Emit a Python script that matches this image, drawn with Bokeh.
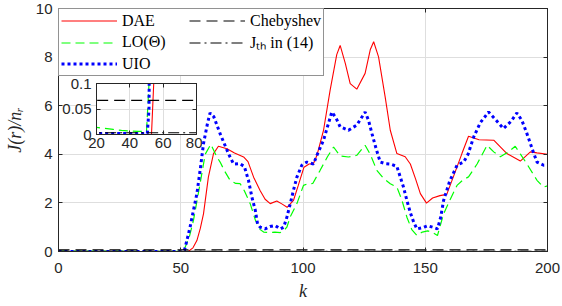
from bokeh.plotting import figure
from bokeh.models import (Legend, LegendItem, LinearAxis, FixedTicker,
                          CustomJSTickFormatter, Range1d)
from bokeh.embed import file_html
from bokeh.resources import INLINE

# ---------------- data ----------------
DAE_k = [0, 53, 55, 56.6, 58, 59.3, 61.3, 63.4, 65.4, 68.9, 72, 75.7, 77.5, 79.8, 82.5, 84.5,
         86.6, 89.3, 91.5, 93.5, 96.1, 98, 100.4, 102.5, 104.3, 105.7, 108.4, 111.1, 113.8,
         115.2, 117.3, 119.3, 122, 125.4, 127.5, 128.9, 130.9, 133.6, 135.7, 138.4, 141.8,
         143.9, 146, 148, 150.5, 153, 156, 158.8, 161.6, 165, 167.7, 172, 178, 183.4, 188.9,
         193, 195.7, 200]
DAE_J = [0, 0, 0.15, 0.45, 0.95, 1.55, 3.06, 4.03, 4.33, 4.23, 4.05, 3.89, 3.7, 3.06, 2.5, 2.15,
         1.97, 2.08, 1.95, 1.82, 2.1, 2.7, 3.47, 3.6, 3.62, 3.96, 4.99, 6.64, 8.1,
         8.48, 7.74, 6.91, 6.68, 7.33, 8.3, 8.63, 8.01, 6.36, 4.99, 4.03, 3.9,
         3.6, 3.0, 2.38, 1.99, 2.2, 2.3, 2.35, 3.1, 4.03, 4.74, 4.6, 4.58, 4.03, 3.72,
         4.1, 4.06, 4.0]

UIO_k = [0, 50.5, 51.5, 52.5, 53.8, 55.2, 56.6, 58, 59.3, 61,
         62, 63.5, 66.1, 69.5, 71.6, 74, 76, 77.7, 79.1, 80.5,
         81.4, 82.5, 84.5, 86.5, 88.6, 90.7, 92.1, 93.4, 94.8, 96.1,
         97.5, 99.5, 101.6, 104.3, 105.7, 108.4, 110.5, 111.8, 113.5, 115.2,
         118.6, 122, 125.4, 126.8, 128.2, 130, 131.6, 133.5, 135.7, 138.4,
         139.8, 141.1, 142.5, 143.9, 145.3, 146.6, 148.8, 151, 153, 155,
         156.3, 157.5, 160, 163, 165.7, 167.5, 169.8, 172.5, 175.9, 179,
         182, 185, 187.5, 189.5, 191.6, 194.3, 195.7, 198.4, 200]
UIO_J = [0.002, 0.002, 0.05, 0.45, 1.0, 1.7, 2.38, 3.4, 4.44, 5.3,
         5.7, 5.55, 4.85, 4.03, 3.6, 3.62, 3.5, 2.93, 2.24, 1.69,
         1.14, 1.0, 0.93, 1.03, 1.07, 0.93, 1.0, 1.41, 1.97, 2.52,
         3.06, 3.55, 3.68, 3.6, 3.96, 4.58, 5.3, 5.74, 5.5, 5.13,
         4.99, 5.2, 5.74, 5.4, 4.85, 4.2, 3.68, 3.62, 3.6, 3.5,
         3.06, 2.65, 2.1, 1.6, 1.2, 0.93, 0.98, 1.06, 1.0, 0.93,
         1.4, 2.1, 2.9, 3.55, 3.68, 4.0, 4.71, 5.3, 5.74, 5.4,
         5.06, 5.35, 5.7, 5.4, 4.85, 4.06, 3.68, 3.55, 3.55]

LO_k = [0, 10, 20, 30, 35, 40, 45, 50, 51.5, 53.5,
        55.2, 57.9, 60, 62.3, 64.8, 66.1, 68, 70.2, 72.5, 74.3,
        76, 78.4, 80.5, 82.5, 83.9, 86, 88.5, 90.7, 92, 93.4,
        94.8, 97.5, 100.2, 102, 104, 107, 110, 112.5, 115.2, 118.6,
        122, 125.4, 127.5, 130.2, 133, 135.7, 138.4, 140.5, 142.5, 144.5,
        146.6, 148.8, 151, 153, 155, 157.5, 160, 163, 165.5, 167.7,
        171.2, 175.3, 178, 180.7, 184, 186.8, 189, 191.6, 195.7, 198.4, 200]
LO_J = [0.02, 0.017, 0.014, 0.01, 0.008, 0.007, 0.006, 0.006, 0.1, 0.6,
        1.28, 2.79, 4.0, 4.41, 3.89, 3.68, 3.3, 2.93, 2.8, 2.79,
        2.5, 1.97, 1.3, 0.9, 0.8, 0.78, 0.8, 0.78, 0.85, 1.0,
        1.43, 1.97, 2.72, 2.79, 2.8, 3.34, 3.9, 4.3, 3.93, 3.89,
        3.96, 4.37, 4.0, 3.34, 3.0, 2.79, 2.65, 2.1, 1.41, 0.9,
        0.66, 0.8, 0.85, 0.78, 0.66, 1.55, 2.1, 2.72, 2.95, 3.07,
        3.6, 4.37, 4.1, 3.9, 4.1, 4.33, 4.0, 3.6, 2.93, 2.65, 2.7]

CHEB_k = [0, 200]
CHEB_J = [0.067, 0.067]
JTH_k = [0, 200]
JTH_J = [0.0033, 0.0033]

X_TICKS = [0, 50, 100, 150, 200]
Y_TICKS = [0, 2, 4, 6, 8, 10]
INSET_X_TICKS = [20, 40, 60, 80]
INSET_Y_TICKS = [0, 0.05, 0.1]
INSET_Y_LABELS = {0: "0", 0.05: "0.05", 0.1: "0.1"}

LABELS = ["DAE", "LO(\u0398)", "UIO", "Chebyshev", "J\u209c\u2095 in (14)"]

AX = "#262626"
GRID = "#dedede"
TICK_FONT = "Liberation Sans"


def style_axes(fig, xticks, yticks, font_size):
    bottom = fig.below[0]
    left = fig.left[0]
    for ax in (bottom, left):
        ax.major_tick_in = 4
        ax.major_tick_out = 0
        ax.minor_tick_line_color = None
        ax.axis_line_color = AX
        ax.major_tick_line_color = AX
        ax.major_label_text_color = AX
        ax.major_label_text_font = TICK_FONT
        ax.major_label_text_font_size = font_size
    bottom.ticker = FixedTicker(ticks=xticks)
    left.ticker = FixedTicker(ticks=yticks)
    fig.xgrid.ticker = FixedTicker(ticks=xticks)
    fig.ygrid.ticker = FixedTicker(ticks=yticks)
    fig.xgrid.grid_line_color = GRID
    fig.ygrid.grid_line_color = GRID
    fig.outline_line_color = AX
    fig.outline_line_alpha = 1
    blank = CustomJSTickFormatter(code="return ''")
    top = LinearAxis(ticker=FixedTicker(ticks=xticks), formatter=blank,
                     major_tick_in=4, major_tick_out=0, minor_tick_line_color=None,
                     major_label_standoff=0, major_label_text_font_size="1px",
                     axis_line_color=AX, major_tick_line_color=AX)
    right = LinearAxis(ticker=FixedTicker(ticks=yticks), formatter=blank,
                       major_tick_in=4, major_tick_out=0, minor_tick_line_color=None,
                       major_label_standoff=0, major_label_text_font_size="1px",
                       axis_line_color=AX, major_tick_line_color=AX)
    fig.add_layout(top, "above")
    fig.add_layout(right, "right")
    return bottom, left


def draw_series(fig):
    r1 = fig.line(DAE_k, DAE_J, line_color="#ff0000", line_width=1.1)
    r2 = fig.line(LO_k, LO_J, line_color="#00ff00", line_width=1.2, line_dash="9 5")
    r3 = fig.line(UIO_k, UIO_J, line_color="#0000ff", line_width=3, line_dash="3 3",
                  line_cap="butt")
    r4 = fig.line(CHEB_k, CHEB_J, line_color="#000000", line_width=1.1, line_dash="11 6")
    r5 = fig.line(JTH_k, JTH_J, line_color="#000000", line_width=1.1, line_dash="11 4 2 4")
    return [r1, r2, r3, r4, r5]


# ---------------- main figure (placed at the page origin) ----------------
p = figure(width=562, height=306, x_range=Range1d(0, 200), y_range=Range1d(0, 10),
           output_backend="svg", toolbar_location=None,
           min_border_left=58, min_border_right=15, min_border_top=8, min_border_bottom=55,
           background_fill_color="white", border_fill_color="white",
           styles={"position": "absolute", "left": "0px", "top": "0px"})
xax, yax = style_axes(p, X_TICKS, Y_TICKS, "15px")
xax.major_label_standoff = 11
yax.major_label_standoff = 6
xax.axis_label = "k"
yax.axis_label = "J(r)/n\u1d63"
for ax in (xax, yax):
    ax.axis_label_text_font = "Liberation Serif"
    ax.axis_label_text_font_style = "italic"
    ax.axis_label_text_font_size = "18px"
    ax.axis_label_text_color = AX
xax.axis_label_standoff = 5
yax.axis_label_standoff = 8

rs = draw_series(p)
legend = Legend(items=[LegendItem(label=l, renderers=[r]) for l, r in zip(LABELS, rs)],
                location="top_left", margin=0, padding=2, spacing=1,
                nrows=3, orientation="vertical",
                glyph_width=56, glyph_height=19, label_height=19, label_standoff=5,
                label_width=66,
                label_text_font="Liberation Serif", label_text_font_size="16px",
                label_text_color="black",
                border_line_color=AX, border_line_width=1,
                background_fill_color="white", background_fill_alpha=1)
p.add_layout(legend)

# ---------------- inset ----------------
inset = figure(width=146, height=84, x_range=Range1d(20, 80), y_range=Range1d(0, 0.1),
               output_backend="svg", toolbar_location=None,
               min_border_left=40, min_border_right=6, min_border_top=11, min_border_bottom=22,
               background_fill_color="white", border_fill_alpha=0,
               styles={"position": "absolute", "left": "56px", "top": "72px"})
ixax, iyax = style_axes(inset, INSET_X_TICKS, INSET_Y_TICKS, "15px")
ixax.major_label_standoff = 3
iyax.major_label_standoff = 5
iyax.major_label_overrides = INSET_Y_LABELS
draw_series(inset)

open("out.html", "w").write(file_html([p, inset], INLINE))
